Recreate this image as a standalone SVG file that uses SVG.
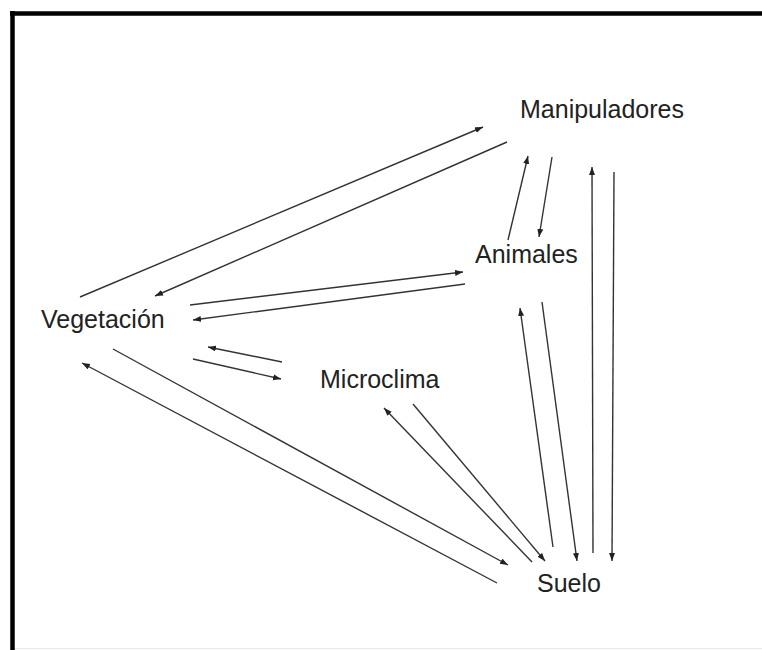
<svg xmlns="http://www.w3.org/2000/svg" width="762" height="650" viewBox="0 0 762 650">
<style>
.lbl{font-family:"Liberation Sans",Arial,sans-serif;font-size:25px;fill:#222}
.c line{stroke:#333;stroke-width:1.4;marker-end:url(#ah)}
</style>
<defs>
<marker id="ah" markerWidth="9" markerHeight="7" refX="8" refY="3" orient="auto" markerUnits="userSpaceOnUse">
<path d="M0,0 L8,3 L0,6 z" fill="#222"/>
</marker>
</defs>
<rect width="762" height="650" fill="#fff"/>
<g id="frame">
<line x1="12.5" y1="11" x2="12.5" y2="650" stroke="#000" stroke-width="4.5"/>
<line x1="10" y1="13.5" x2="762" y2="13.5" stroke="#000" stroke-width="4.5"/>
<line x1="15" y1="648.5" x2="762" y2="648.5" stroke="#e8e8e8" stroke-width="1"/>
</g>
<g id="manipuladores"><text class="lbl" x="520" y="118">Manipuladores</text></g>
<g id="animales"><text class="lbl" x="475" y="263">Animales</text></g>
<g id="vegetacion"><text class="lbl" x="41" y="328">Vegetación</text></g>
<g id="microclima"><text class="lbl" x="320" y="388">Microclima</text></g>
<g id="suelo"><text class="lbl" x="537" y="592">Suelo</text></g>
<g id="connectors" class="c">
<line x1="80" y1="297" x2="483" y2="127"/>
<line x1="507" y1="142" x2="155" y2="296"/>
<line x1="190" y1="305" x2="463" y2="272"/>
<line x1="465" y1="284" x2="193" y2="320"/>
<line x1="282" y1="362" x2="208" y2="347"/>
<line x1="193" y1="359" x2="281" y2="379"/>
<line x1="508" y1="240" x2="528" y2="156"/>
<line x1="552" y1="157" x2="539" y2="237"/>
<line x1="593" y1="553" x2="592" y2="167"/>
<line x1="614" y1="172" x2="612" y2="561"/>
<line x1="553" y1="547" x2="520" y2="308"/>
<line x1="542" y1="302" x2="577" y2="561"/>
<line x1="532" y1="562" x2="384" y2="408"/>
<line x1="413" y1="404" x2="545" y2="561"/>
<line x1="113" y1="349" x2="508" y2="565"/>
<line x1="497" y1="583" x2="82" y2="363"/>
</g>
</svg>
